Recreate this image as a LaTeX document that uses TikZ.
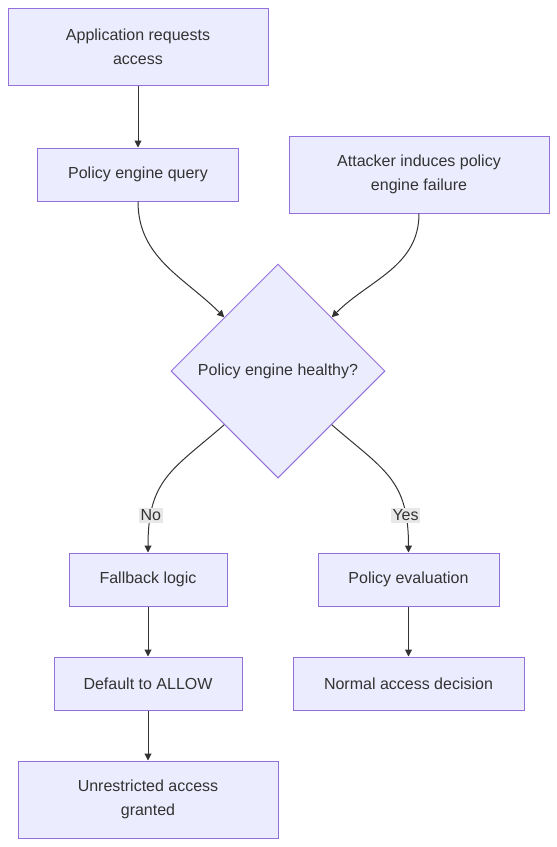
\documentclass[tikz,border=0pt]{standalone}
\usepackage{fontspec}
\setmainfont{Liberation Sans}
\usetikzlibrary{positioning,shapes.geometric,arrows.meta}
\definecolor{boxfill}{HTML}{ECECFF}
\definecolor{boxline}{HTML}{9370DB}
\definecolor{edgeline}{HTML}{333333}
\definecolor{labelfill}{HTML}{E8E8E8}

\begin{document}
\begin{tikzpicture}[
  x=1pt, y=1pt,
  node distance=50pt and 40pt,
  every node/.style={font=\fontsize{16}{24}\selectfont, text=edgeline},
  box/.style={draw=boxline, fill=boxfill, line width=1pt, minimum height=53pt, align=center, inner sep=0pt},
  bigbox/.style={box, minimum width=260pt, minimum height=77pt},
  decision/.style={diamond, draw=boxline, fill=boxfill, line width=1pt, minimum width=214pt, minimum height=214pt, inner sep=0pt, align=center},
  arrow/.style={-{Triangle[length=7pt,width=7pt]}, line width=1pt, draw=edgeline},
  edgelabel/.style={fill=labelfill, inner sep=1.5pt}
]
\useasboundingbox (0,0) rectangle (557,-847);

\node[bigbox] (app) at (138,-46.5) {Application requests\\access};
\node[box, minimum width=201pt, below=62pt of app] (query) {Policy engine query};
\node[bigbox] (attack) at (419,-174.5) {Attacker induces policy\\engine failure};
\node[decision] (healthy) at (278,-371) {Policy engine healthy?};

% left branch
\node[box, minimum width=158pt] (fallback) at (148,-579.5) {Fallback logic};
\node[box, minimum width=188pt, below=of fallback] (default) {Default to ALLOW};
\node[bigbox, below=of default] (granted) {Unrestricted access\\granted};

% right branch
\node[box, minimum width=181pt] (eval) at (408.5,-579.5) {Policy evaluation};
\node[box, minimum width=231pt, below=of eval] (normal) {Normal access decision};

\draw[arrow] (app) -- (query);
\draw[arrow] (query.south) to[out=-90, in=135] (healthy.north west);
\draw[arrow] (attack.south) to[out=-90, in=45] (healthy.north east);
\draw[arrow] (healthy.south west) .. controls +(-52.5,-45.5) and +(0,73) .. node[edgelabel, pos=0.8] {No} (fallback.north);
\draw[arrow] (healthy.south east) .. controls +(52.5,-45.5) and +(0,73) .. node[edgelabel, pos=0.8] {Yes} (eval.north);
\draw[arrow] (fallback) -- (default);
\draw[arrow] (default) -- (granted);
\draw[arrow] (eval) -- (normal);
\end{tikzpicture}
\end{document}
